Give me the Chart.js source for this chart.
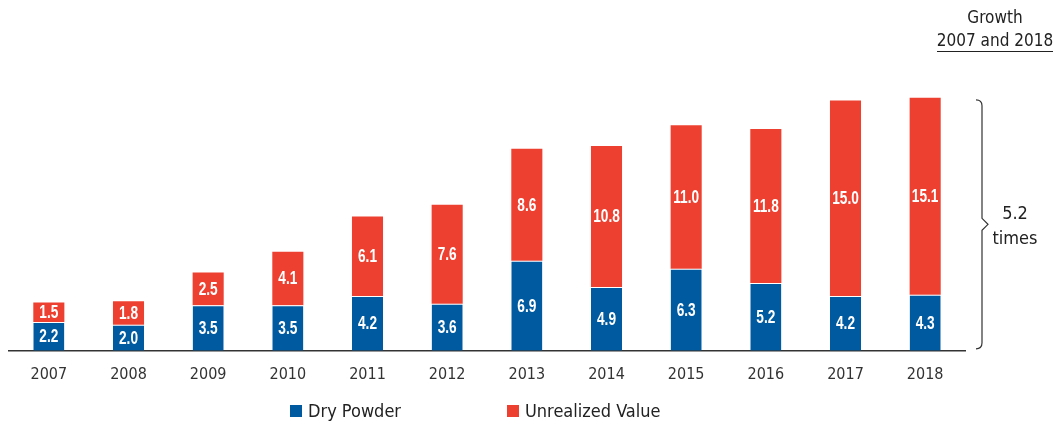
<!DOCTYPE html>
<html>
<head>
<meta charset="utf-8">
<script src="https://cdn.jsdelivr.net/npm/chart.js@4.4.1/dist/chart.umd.min.js"></script>
<style>
  body { margin: 0; background: #fff; font-family: "DejaVu Sans Condensed", "Liberation Sans", sans-serif; color: #222; }
  #wrap { position: relative; width: 1061px; height: 424px; }
  #chart { position: absolute; left: 0; top: 0; }
  .note { position: absolute; text-align: center; font-size: 17px; line-height: 23px; }
  .big { font-size: 18px; line-height: 25px; }
  .legend { position: absolute; top: 400px; font-size: 18px; display: flex; align-items: center; }
  .legend span.box { display: inline-block; width: 12px; height: 12px; margin-right: 6px; }
</style>
</head>
<body>
<div id="wrap">
  <canvas id="chart" width="1061" height="424"></canvas>
  <div class="note" style="left:930px; top:6px; width:130px;">Growth<br><span style="border-bottom:1.5px solid #222; padding-bottom:1px;">2007 and 2018</span></div>
  <div class="note big" style="left:990px; top:200px; width:50px;">5.2<br>times</div>
  <div class="legend" style="left:290px;"><span class="box" style="background:#005AA0"></span>Dry Powder</div>
  <div class="legend" style="left:507px;"><span class="box" style="background:#EE4030"></span>Unrealized Value</div>
</div>
<script>
// Chart data
const years = ['2007', '2008', '2009', '2010', '2011', '2012', '2013', '2014', '2015', '2016', '2017', '2018'];
const dryPowder = [2.2, 2.0, 3.5, 3.5, 4.2, 3.6, 6.9, 4.9, 6.3, 5.2, 4.2, 4.3];
const unrealizedValue = [1.5, 1.8, 2.5, 4.1, 6.1, 7.6, 8.6, 10.8, 11.0, 11.8, 15.0, 15.1];

const BLUE = '#005AA0';
const RED = '#EE4030';

// Draw the value inside each bar segment (condensed look)
const barLabels = {
  id: 'barLabels',
  afterDatasetsDraw(chart) {
    const ctx = chart.ctx;
    chart.data.datasets.forEach((ds, i) => {
      chart.getDatasetMeta(i).data.forEach((bar, j) => {
        const mid = (bar.y + bar.base) / 2;
        ctx.save();
        ctx.fillStyle = '#fff';
        ctx.font = 'bold 18px "Liberation Sans", sans-serif';
        ctx.textAlign = 'center';
        ctx.textBaseline = 'middle';
        ctx.translate(bar.x, mid + 1);
        ctx.scale(0.76, 1);
        ctx.fillText(ds.data[j].toFixed(1), 0, 0);
        ctx.restore();
      });
    });
  }
};

// Curly brace next to the 2018 bar
const growthBrace = {
  id: 'growthBrace',
  afterDraw(chart) {
    const ctx = chart.ctx;
    const y = chart.scales.y;
    const last = years.length - 1;
    const top = y.getPixelForValue(dryPowder[last] + unrealizedValue[last]) + 2;
    const bottom = y.getPixelForValue(0) - 2;
    const mid = (top + bottom) / 2;
    const x0 = 976, x1 = 982, xp = 988;
    ctx.save();
    ctx.strokeStyle = '#333';
    ctx.lineWidth = 1.2;
    ctx.beginPath();
    ctx.moveTo(x0, top);
    ctx.quadraticCurveTo(x1, top, x1, top + 6);
    ctx.lineTo(x1, mid - 6);
    ctx.lineTo(xp, mid);
    ctx.lineTo(x1, mid + 6);
    ctx.lineTo(x1, bottom - 6);
    ctx.quadraticCurveTo(x1, bottom, x0, bottom);
    ctx.stroke();
    ctx.restore();
  }
};

new Chart(document.getElementById('chart').getContext('2d'), {
  type: 'bar',
  data: {
    labels: years,
    datasets: [
      {
        label: 'Dry Powder',
        data: dryPowder,
        backgroundColor: BLUE,
        borderColor: '#fff',
        borderWidth: { top: 1, left: 0, right: 0, bottom: 0 },
        categoryPercentage: 1,
        barPercentage: 0.39
      },
      {
        label: 'Unrealized Value',
        data: unrealizedValue,
        backgroundColor: RED,
        borderWidth: 0,
        categoryPercentage: 1,
        barPercentage: 0.39
      }
    ]
  },
  options: {
    responsive: false,
    animation: false,
    layout: { padding: { left: 9, right: 96, top: 60, bottom: 26 } },
    plugins: {
      legend: { display: false },
      tooltip: { enabled: false }
    },
    scales: {
      x: {
        stacked: true,
        grid: { display: false, drawTicks: false },
        border: { display: true, color: '#333', width: 1.5 },
        ticks: { color: '#333', font: { family: '"DejaVu Sans Condensed", sans-serif', size: 16 }, padding: 14 }
      },
      y: {
        stacked: true,
        display: false,
        min: 0,
        max: 22.3
      }
    }
  },
  plugins: [barLabels, growthBrace]
});
</script>
</body>
</html>
